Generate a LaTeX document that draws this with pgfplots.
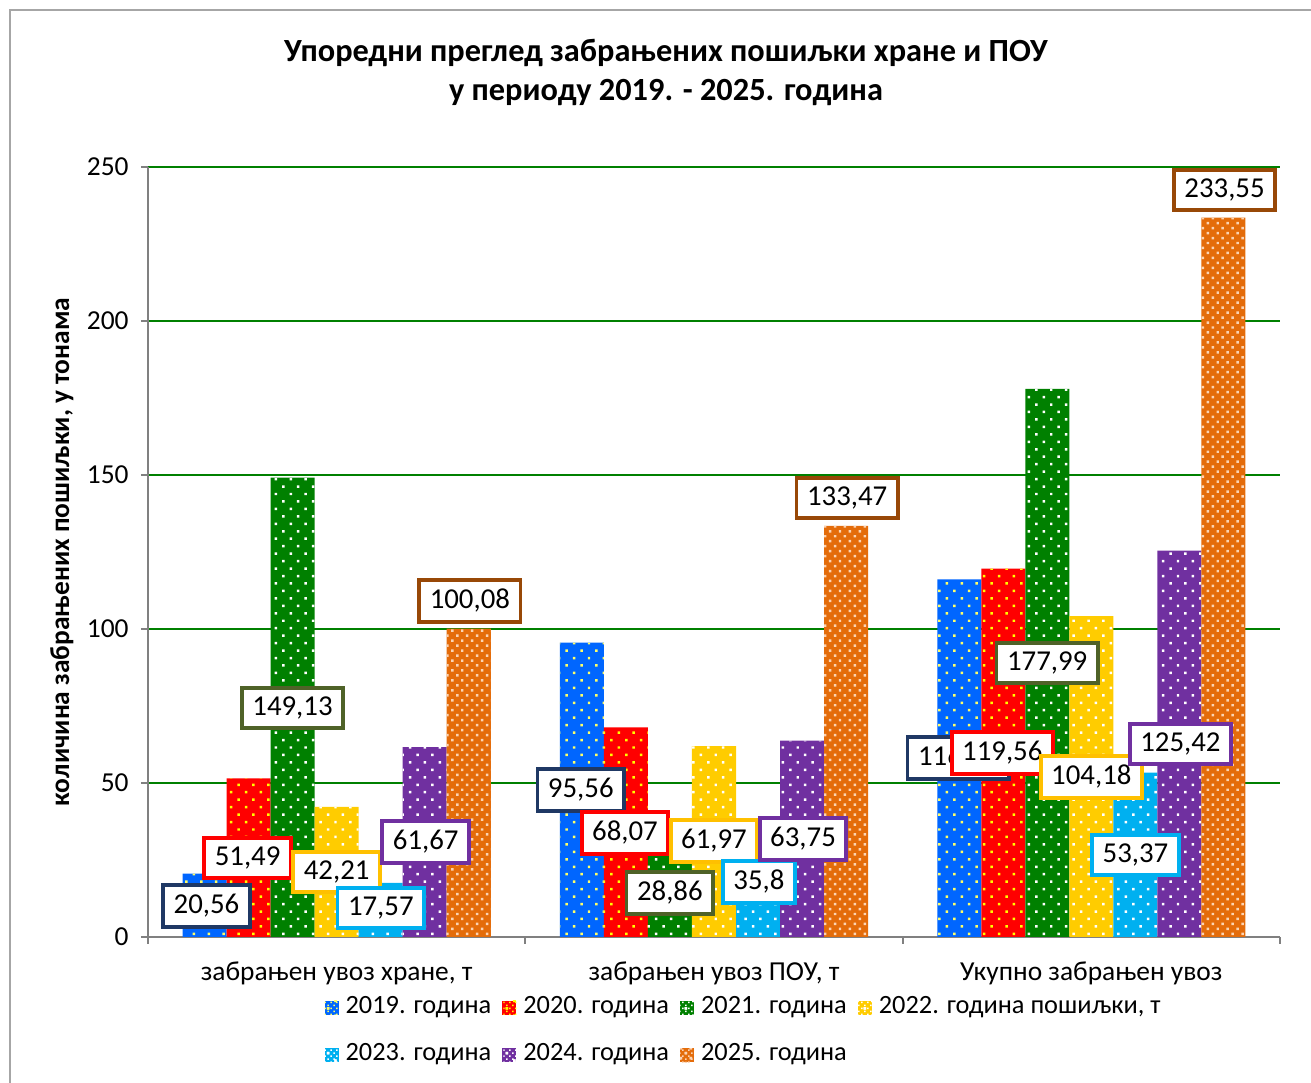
\documentclass[border=0pt]{standalone}
\usepackage{fontspec}
\setmainfont{Carlito}
\usepackage{pgfplots}
\usepackage{pgfplotstable}
\pgfplotsset{compat=1.18}
\usetikzlibrary{patterns.meta}

\definecolor{c19}{HTML}{0066FF}
\definecolor{c20}{HTML}{FF0000}
\definecolor{c21}{HTML}{008000}
\definecolor{c22}{HTML}{FFCC00}
\definecolor{c23}{HTML}{00B0F0}
\definecolor{c24}{HTML}{7030A0}
\definecolor{c25}{HTML}{E46C0A}
\definecolor{d19}{HTML}{FFFF66}
\definecolor{d25}{HTML}{FBD4B4}
\definecolor{b19}{HTML}{1F3864}
\definecolor{b21}{HTML}{4F6228}
\definecolor{b22}{HTML}{FFC000}
\definecolor{b25}{HTML}{984807}
\definecolor{gridgreen}{HTML}{008000}

% x: 0 = food, 1 = POU, 2 = total
\pgfplotstableread{
x y2019 y2020 y2021 y2022 y2023 y2024 y2025
0 20.56 51.49 149.13 42.21 17.57 61.67 100.08
1 95.56 68.07 28.86 61.97 35.8 63.75 133.47
2 116.12 119.56 177.99 104.18 53.37 125.42 233.55
}\bardata

\newcommand\fs{\fontsize{7.8}{9.4}\selectfont}

\pgfplotsset{
  yrbar/.style n args={4}{ybar, bar width=0.1167, bar shift=#1, draw=none, fill=#2,
    postaction={pattern={Dots[distance=#4, angle=45, radius=0.5pt]}, pattern color=#3},
    legend image code/.code={
      \fill[#2] (0mm,-0.7mm) rectangle (1.4mm,0.7mm);
      \fill[pattern={Dots[distance=1.2pt, angle=45, radius=0.3pt]}, pattern color=#3] (0mm,-0.7mm) rectangle (1.4mm,0.7mm);}},
  lbl/.style={forget plot, draw=none, mark=none, nodes near coords, point meta=explicit symbolic,
    every node near coord/.append style={draw=#1}},
}

\begin{document}
\begin{tikzpicture}
\path[use as bounding box] (-1.48cm,-1.46cm) rectangle (11.63cm,9.37cm);
\draw[gray!70, line width=0.7pt] (-1.38cm,-2cm) -- (-1.38cm,9.27cm) -- (12cm,9.27cm);
\begin{axis}[
  scale only axis, width=11.32cm, height=7.70cm,
  xmin=-0.5, xmax=2.5, ymin=0, ymax=250,
  axis x line*=bottom, axis y line*=left,
  axis line style={-, draw=gray, line width=0.6pt},
  xtick={-0.5,0.5,1.5,2.5}, xticklabels={},
  extra x ticks={0,1,2},
  extra x tick labels={{забрањен увоз хране, т}, {забрањен увоз ПОУ, т}, {Укупно забрањен увоз}},
  extra x tick style={major tick length=0pt},
  ytick={0,50,...,250},
  tick align=outside, major tick length=0.7mm,
  tick style={draw=gray, line width=0.6pt},
  ymajorgrids, grid style={draw=gridgreen, line width=0.6pt},
  /pgf/number format/assume math mode=true,
  tick label style={font=\fs},
  xticklabel style={yshift=-1.2mm},
  title={Упоредни преглед забрањених пошиљки хране и ПОУ\\у периоду 2019. - 2025. година},
  title style={at={(rel axis cs:0.4576,1.0954)}, anchor=center, align=center,
    font=\bfseries\fontsize{9.2}{11.1}\selectfont},
  ylabel={количина забрањених пошиљки, у тонама},
  ylabel style={at={(rel axis cs:-0.076,0.5)}, anchor=center, font=\bfseries\fs},
  every node near coord/.append style={anchor=center, fill=white, text=black,
    line width=1.1pt, inner xsep=3pt, inner ysep=2.6pt, font=\fontsize{8.2}{9.8}\selectfont},
  legend style={at={(0.146,-0.058)}, anchor=north west, draw=none, fill=none,
    legend columns=4, font=\fontsize{7.5}{9}\selectfont, column sep=0.4mm, row sep=1.1mm,
    /tikz/every odd column/.append style={column sep=0mm}},
  legend cell align=left,
]
\addplot[yrbar={-0.35}{c19}{d19}{3pt}] table[x=x, y=y2019] {\bardata};
\addplot[yrbar={-0.2333}{c20}{yellow}{3pt}] table[x=x, y=y2020] {\bardata};
\addplot[yrbar={-0.1167}{c21}{white}{3pt}] table[x=x, y=y2021] {\bardata};
\addplot[yrbar={0}{c22}{white}{3pt}] table[x=x, y=y2022] {\bardata};
\addplot[yrbar={0.1167}{c23}{white}{3pt}] table[x=x, y=y2023] {\bardata};
\addplot[yrbar={0.2333}{c24}{white}{3pt}] table[x=x, y=y2024] {\bardata};
\addplot[yrbar={0.35}{c25}{d25}{2pt}] table[x=x, y=y2025] {\bardata};
\legend{2019. година, 2020. година, 2021. година, {2022. година пошиљки, т},
  2023. година, 2024. година, 2025. година}

% data labels (box centres)
\addplot[lbl=b19] table[meta=t] {
x y t
-0.345 10.06 20,56
0.647 47.73 95,56
1.647 58.12 116,12
};
\addplot[lbl=c20] table[meta=t] {
x y t
-0.236 25.65 51,49
0.764 33.77 68,07
1.764 59.74 119,56
};
\addplot[lbl=b21] table[meta=t] {
x y t
-0.117 74.35 149,13
0.883 14.29 28,86
1.883 88.96 177,99
};
\addplot[lbl=b22] table[meta=t] {
x y t
0 21.1 42,21
1 31.17 61,97
2 51.95 104,18
};
\addplot[lbl=c23] table[meta=t] {
x y t
0.117 9.42 17,57
1.119 17.86 35,8
2.117 26.62 53,37
};
\addplot[lbl=c24] table[meta=t] {
x y t
0.236 30.84 61,67
1.236 31.82 63,75
2.236 62.66 125,42
};
\addplot[lbl=b25] table[meta=t] {
x y t
0.353 109.1 100,08
1.353 142.5 133,47
2.353 242.5 233,55
};
\end{axis}
\end{tikzpicture}
\end{document}
